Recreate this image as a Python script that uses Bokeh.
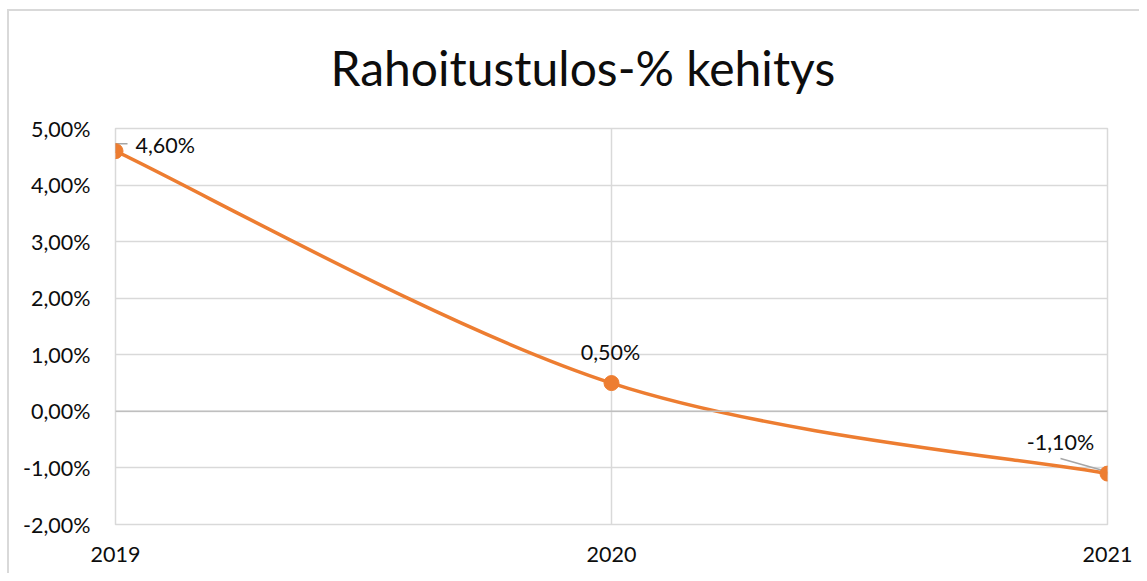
from bokeh.plotting import figure
from bokeh.models import Range1d, FixedTicker, Span, ColumnDataSource
from bokeh.core.properties import value
from bokeh.embed import file_html
from bokeh.resources import INLINE

# ---- data ----
years = ["2019", "2020", "2021"]
values = [4.6, 0.5, -1.1]
value_labels = ["4,60%", "0,50%", "-1,10%"]
y_ticks = [-2, -1, 0, 1, 2, 3, 4, 5]
y_tick_labels = ["-2,00%", "-1,00%", "0,00%", "1,00%", "2,00%", "3,00%", "4,00%", "5,00%"]
title_text = "Rahoitustulos-% kehitys"

# ---- styles ----
ORANGE = "#ED7D31"
GRID = "#d9d9d9"
TEXT = "#0d0d0d"
FONT = "Lato"
W, H = 1139, 573
ML, MR, MT, MB = 115, 32, 128, 49

xs = list(range(len(years)))
x0, x1 = 0, len(years) - 1
y0, y1 = y_ticks[0], y_ticks[-1]

p = figure(width=W, height=H, output_backend="svg", toolbar_location=None,
           x_range=Range1d(x0, x1), y_range=Range1d(y0, y1),
           min_border_left=ML, min_border_right=MR, min_border_top=MT, min_border_bottom=MB)
p.outline_line_color = GRID
p.outline_line_width = 1.5
p.background_fill_color = "white"
p.border_fill_color = None
p.styles = {"background": "linear-gradient(#d9d9d9,#d9d9d9) 7px 9px / calc(100% - 7px) 2px no-repeat, "
                          "linear-gradient(#d9d9d9,#d9d9d9) 7px 9px / 2px calc(100% - 9px) no-repeat, #ffffff"}

# title
p.title.text = title_text
p.title.align = "left"
p.title.offset = 215
p.title.text_font = FONT
p.title.text_font_size = "48px"
p.title.text_font_style = "normal"
p.title.text_color = TEXT
p.title.standoff = 66

# axes
p.xaxis.ticker = FixedTicker(ticks=xs)
p.xaxis.major_label_overrides = {i: y for i, y in zip(xs, years)}
p.yaxis.ticker = FixedTicker(ticks=y_ticks)
p.yaxis.major_label_overrides = {t: l for t, l in zip(y_ticks, y_tick_labels)}
for ax in (p.xaxis, p.yaxis):
    ax.axis_line_color = None
    ax.major_tick_line_color = None
    ax.minor_tick_line_color = None
    ax.major_label_text_font = FONT
    ax.major_label_text_font_size = "21.5px"
    ax.major_label_text_color = TEXT
p.xaxis.major_label_standoff = 16
p.yaxis.major_label_standoff = 19

p.xgrid.ticker = FixedTicker(ticks=xs)
p.ygrid.ticker = FixedTicker(ticks=y_ticks)
p.grid.grid_line_color = GRID
p.grid.grid_line_width = 1.5

p.add_layout(Span(location=0, dimension="width", line_color="#bfbfbf", line_width=1.5))

# smooth line: Catmull-Rom -> cubic Bezier segments
pts = list(zip(xs, values))
bx0, by0, bx1, by1, cx0, cy0, cx1, cy1 = [], [], [], [], [], [], [], []
for i in range(len(pts) - 1):
    pm = pts[i - 1] if i > 0 else pts[i]
    pa = pts[i]
    pb = pts[i + 1]
    pn = pts[i + 2] if i + 2 < len(pts) else pts[i + 1]
    bx0.append(pa[0]); by0.append(pa[1]); bx1.append(pb[0]); by1.append(pb[1])
    cx0.append(pa[0] + (pb[0] - pm[0]) / 6); cy0.append(pa[1] + (pb[1] - pm[1]) / 6)
    cx1.append(pb[0] - (pn[0] - pa[0]) / 6); cy1.append(pb[1] - (pn[1] - pa[1]) / 6)
p.bezier(x0=bx0, y0=by0, x1=bx1, y1=by1, cx0=cx0, cy0=cy0, cx1=cx1, cy1=cy1,
         line_color=ORANGE, line_width=3.5)

# leader lines (pixel offsets converted to data units)
fw, fh = W - ML - MR, H - MT - MB
dxp = (x1 - x0) / fw
dyp = (y1 - y0) / fh
lead_x = [[xs[0], xs[0], xs[0] + 12 * dxp], [xs[2] - 47 * dxp, xs[2] - 1 * dxp]]
lead_y = [[values[0], values[0] + 7.5 * dyp, values[0] + 7.5 * dyp],
          [values[2] + 15 * dyp, values[2] + 2 * dyp]]
p.multi_line(xs=lead_x, ys=lead_y, line_color="#a6a6a6", line_width=1.5)

p.scatter(xs, values, size=15, fill_color=ORANGE, line_color=ORANGE)

# data labels
lab_dx = [20, -1, -47]
lab_dy = [-6, -31, -32]
lab_align = ["left", "center", "center"]
src = ColumnDataSource(dict(x=xs, y=values, t=value_labels, dx=lab_dx, dy=lab_dy, a=lab_align))
p.text(x="x", y="y", text="t", x_offset="dx", y_offset="dy", text_align="a",
       text_baseline="middle", text_font=value(FONT), text_font_size="21.5px",
       text_color=TEXT, source=src)

open("out.html", "w").write(file_html(p, INLINE))
